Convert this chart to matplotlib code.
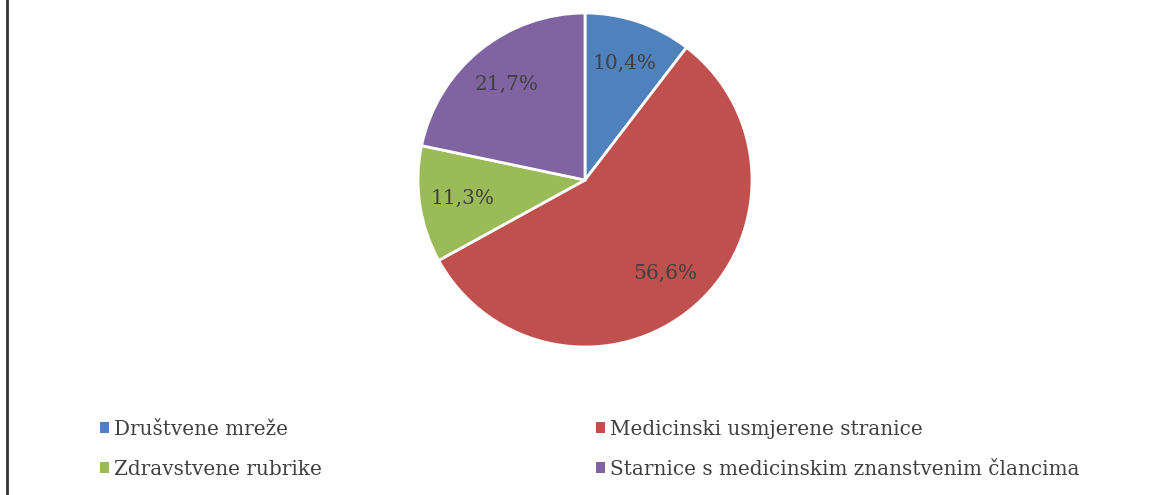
import matplotlib.pyplot as plt
from matplotlib.patches import Patch
from matplotlib.lines import Line2D

categories = ["Društvene mreže", "Medicinski usmjerene stranice",
              "Zdravstvene rubrike", "Starnice s medicinskim znanstvenim člancima"]
shares = [10.4, 56.6, 11.3, 21.7]
colors = ["#4F81BD", "#C0504D", "#9BBB59", "#8064A2"]
textColor = "#404040"

plt.rcParams['font.family'] = ['DejaVu Serif']

fig = plt.figure(figsize=(11.5, 4.95), dpi=100)

# pie axes sized so radius ~167 px, centre ~ (585, 180)
ax = fig.add_axes([418 / 1150, 148 / 495, 334 / 1150, 334 / 495])
wedges, texts, autotexts = ax.pie(
    shares, colors=colors, startangle=90, counterclock=False,
    autopct=lambda p: f"{p:.1f}%".replace('.', ','), pctdistance=0.74,
    wedgeprops=dict(edgecolor='white', linewidth=2),
    textprops=dict(color=textColor, fontsize=14.5))
ax.set_xlim(-1, 1)
ax.set_ylim(-1, 1)
ax.set_aspect('equal')

# left border line
fig.add_artist(Line2D([7 / 1150, 7 / 1150], [0, 1], color='#333333', linewidth=2))

def legendItems(idx):
    return [Patch(facecolor=colors[i], edgecolor='none') for i in idx], [categories[i] for i in idx]

for idx, xPos in [([0, 2], 100 / 1150), ([1, 3], 596 / 1150)]:
    handles, labels = legendItems(idx)
    leg = fig.legend(handles, labels, loc='upper left', bbox_to_anchor=(xPos, 1 - 420 / 495),
                     frameon=False, fontsize=14.4, handlelength=0.47, handleheight=0.47,
                     handletextpad=0.25, labelspacing=1.05, borderpad=0, borderaxespad=0,
                     labelcolor=textColor)

fig.savefig("out.png", dpi=100)
